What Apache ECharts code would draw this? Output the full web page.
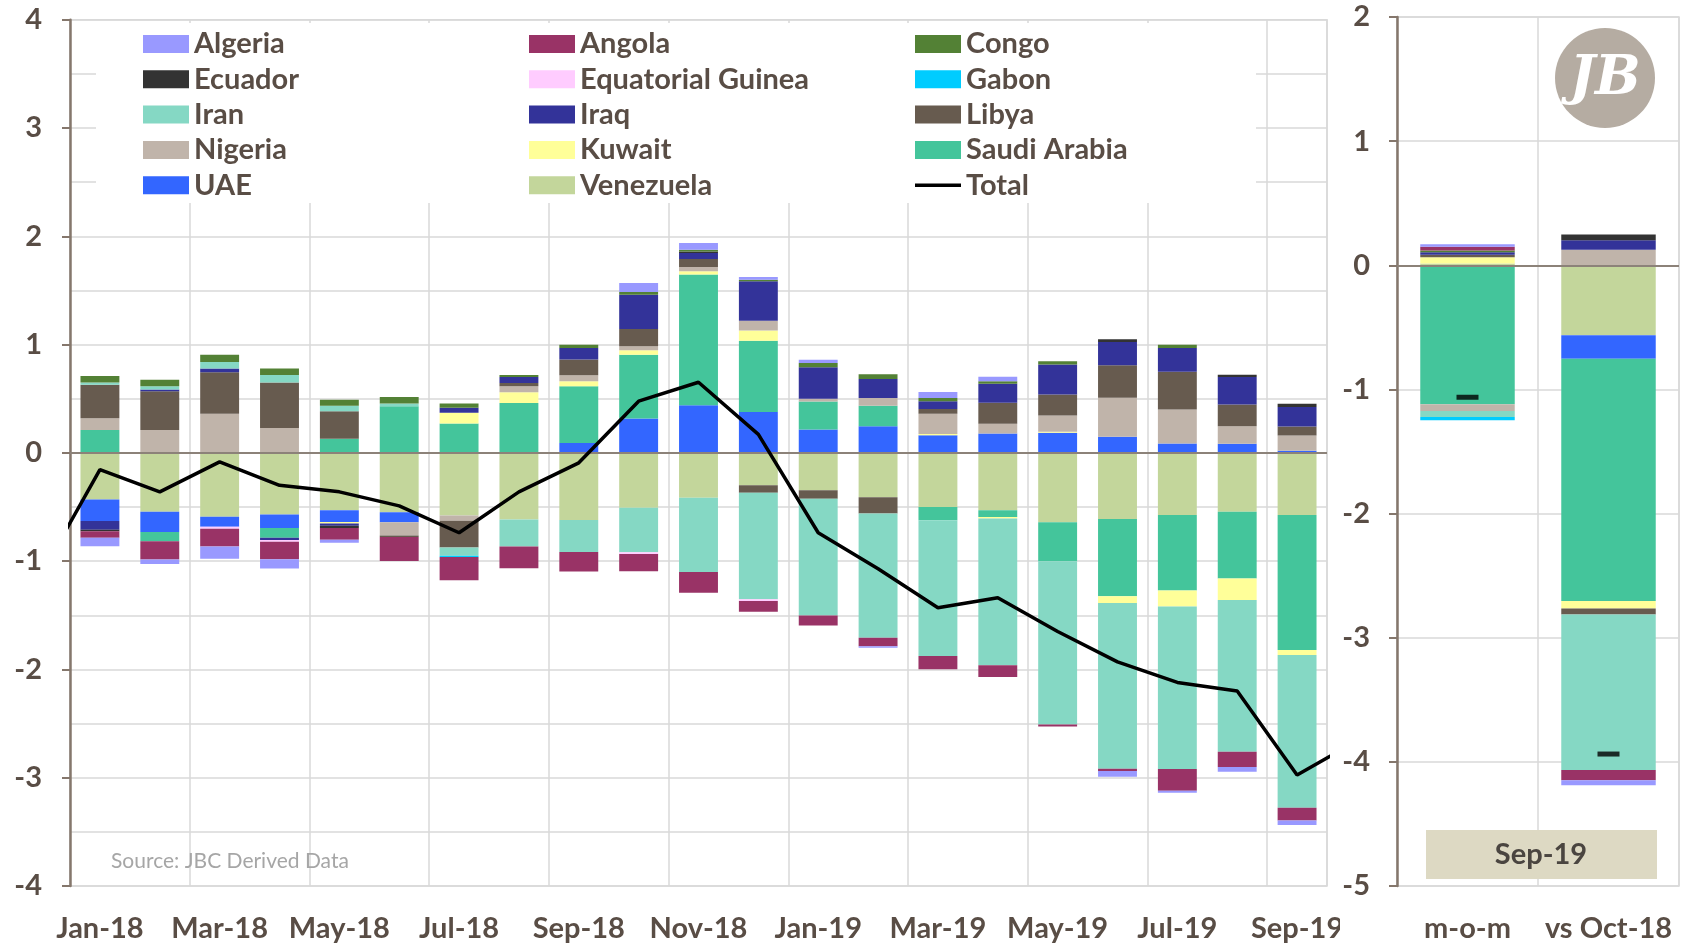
<!DOCTYPE html>
<html>
<head>
<meta charset="utf-8">
<script src="https://cdn.jsdelivr.net/npm/echarts@6/dist/echarts.min.js"></script>
<style>
html,body{margin:0;padding:0;background:#fff;}
#chart{width:1687px;height:943px;}
</style>
</head>
<body>
<div id="chart"></div>
<script>
// ---------- DATA ----------
const months = ['Jan-18','Feb-18','Mar-18','Apr-18','May-18','Jun-18','Jul-18','Aug-18','Sep-18','Oct-18','Nov-18','Dec-18',
                'Jan-19','Feb-19','Mar-19','Apr-19','May-19','Jun-19','Jul-19','Aug-19','Sep-19'];
const sepCats = ['m-o-m', 'vs Oct-18'];
const leftTicks = [-4, 4, 1];   // min, max, step
const rightTicks = [-5, 2, 1];

const venezuela = [-0.43,-0.545,-0.59,-0.57,-0.53,-0.548,-0.578,-0.615,-0.62,-0.508,-0.415,-0.30,-0.345,-0.41,-0.50,-0.53,-0.64,-0.61,-0.575,-0.545,-0.575];
const uae       = [-0.20,-0.185,-0.092,-0.123,-0.108,-0.092,0,0,0.092,0.317,0.44,0.378,0.215,0.246,0.163,0.178,0.185,0.148,0.086,0.083,0.02];
const saudiArabia = [0.21,-0.086,0,-0.092,0.13,0.43,0.27,0.46,0.523,0.59,1.206,0.658,0.26,0.19,-0.123,-0.062,-0.36,-0.714,-0.695,-0.615,-1.246];
const kuwait    = [0,0,0,0,-0.015,0,0.10,0.10,0.046,0.04,0.03,0.095,0,0,0.012,-0.015,0.01,-0.062,-0.15,-0.20,-0.046];
const nigeria   = [0.11,0.21,0.36,0.23,0,-0.123,-0.05,0.055,0.055,0.037,0.04,0.09,0.025,0.07,0.185,0.09,0.15,0.36,0.314,0.163,0.14];
const libya     = [0.31,0.36,0.385,0.42,0.255,-0.015,-0.246,0.03,0.145,0.16,0.074,-0.068,-0.08,-0.15,0.046,0.194,0.194,0.30,0.348,0.20,0.083];
const iraq      = [-0.08,0.015,0.034,-0.02,-0.02,0,0.046,0.055,0.108,0.317,0.055,0.363,0.29,0.175,0.07,0.175,0.277,0.215,0.22,0.255,0.18];
const iran      = [0.02,0.03,0.06,0.07,0.05,0.025,-0.077,-0.25,-0.295,-0.41,-0.686,-0.985,-1.077,-1.148,-1.252,-1.354,-1.508,-1.532,-1.50,-1.40,-1.41];
const gabon     = [0,0,0,0,0,0,-0.01,0,0,0,0,0,0,0,0,0,0,0,0,0,0];
const equatorialGuinea = [0,0,-0.02,-0.015,0,0,0,0,0,-0.015,0,-0.015,0,0,0,0,0,0,0,0,0];
const ecuador   = [-0.015,0,0,0,-0.02,0,0,0,0,0,0.015,0,0,0,0,0,0,0.025,0,0.02,0.03];
const congo     = [0.06,0.06,0.068,0.06,0.055,0.06,0.04,0.02,0.03,0.025,0.015,0.015,0.04,0.045,0.03,0.025,0.03,0,0.03,0,0];
const angola    = [-0.06,-0.17,-0.163,-0.163,-0.11,-0.22,-0.215,-0.20,-0.18,-0.16,-0.19,-0.10,-0.092,-0.077,-0.123,-0.108,-0.02,-0.02,-0.20,-0.14,-0.117];
const algeria   = [-0.077,-0.04,-0.114,-0.086,-0.028,0,0,0,0,0.083,0.062,0.025,0.03,-0.015,0.055,0.04,0,-0.052,-0.02,-0.046,-0.043];

const total     = [-0.154,-0.36,-0.083,-0.30,-0.36,-0.49,-0.738,-0.36,-0.092,0.477,0.652,0.17,-0.738,-1.07,-1.43,-1.338,-1.65,-1.93,-2.12,-2.20,-2.975];
const totalBefore = -1.14;  // Dec-17 (only the edge of its segment is visible)
const totalAfter  = -2.66;  // Oct-19 (only the edge of its segment is visible)

// Sep-19 panel: [m-o-m, vs Oct-18]
const venezuelaSep = [0.015,-0.564];
const uaeSep       = [0,-0.188];
const saudiArabiaSep = [-1.12,-1.953];
const kuwaitSep    = [0.05,-0.059];
const nigeriaSep   = [-0.054,0.126];
const libyaSep     = [0.02,-0.048];
const iraqSep      = [0.02,0.075];
const iranSep      = [-0.048,-1.253];
const gabonSep     = [-0.027,0];
const equatorialGuineaSep = [0,0];
const ecuadorSep   = [0,0.046];
const congoSep     = [0.015,0];
const angolaSep    = [0.03,-0.083];
const algeriaSep   = [0.02,-0.04];
const totalSep     = [-1.063,-3.937];

// ---------- STYLE ----------
const FONT = 'Lato';
const TXT = '#594d45';
const GRID = '#d9d9d9';
const AXIS = '#85776c';

// stacking order (outward from zero) and colours
const stackOrder = [
  ['Venezuela', venezuela, venezuelaSep, '#c3d69b'],
  ['UAE', uae, uaeSep, '#3366ff'],
  ['Saudi Arabia', saudiArabia, saudiArabiaSep, '#44c59b'],
  ['Kuwait', kuwait, kuwaitSep, '#ffff99'],
  ['Nigeria', nigeria, nigeriaSep, '#c0b4aa'],
  ['Libya', libya, libyaSep, '#675b4f'],
  ['Iraq', iraq, iraqSep, '#333399'],
  ['Iran', iran, iranSep, '#85d8c4'],
  ['Gabon', gabon, gabonSep, '#00ccff'],
  ['Equatorial Guinea', equatorialGuinea, equatorialGuineaSep, '#ffccff'],
  ['Ecuador', ecuador, ecuadorSep, '#333333'],
  ['Congo', congo, congoSep, '#538135'],
  ['Angola', angola, angolaSep, '#993366'],
  ['Algeria', algeria, algeriaSep, '#9999ff']
];

const series = [];
stackOrder.forEach(([name, vals, sepVals, color]) => {
  series.push({
    name, type: 'bar', xAxisIndex: 0, yAxisIndex: 0, stack: 'left',
    data: vals, barCategoryGap: '35%', itemStyle: { color }, z: 2
  });
  series.push({
    name, type: 'bar', xAxisIndex: 2, yAxisIndex: 1, stack: 'right',
    data: sepVals, barCategoryGap: '33%', itemStyle: { color }, z: 2
  });
});
const zeroLine = {
  silent: true, symbol: 'none', label: { show: false },
  lineStyle: { color: '#8c8279', width: 2, type: 'solid' },
  data: [{ yAxis: 0 }]
};
series[0].markLine = zeroLine;
series[1].markLine = zeroLine;

const lineData = [[-1, totalBefore]].concat(total.map((v, i) => [i, v])).concat([[months.length, totalAfter]]);
series.push({
  name: 'Total', type: 'line', xAxisIndex: 1, yAxisIndex: 0,
  data: lineData, symbol: 'none', clip: true,
  lineStyle: { color: '#000', width: 3.5 }, itemStyle: { color: '#000' }, z: 5
});
series.push({
  name: 'Total (Sep-19)', type: 'scatter', xAxisIndex: 2, yAxisIndex: 1,
  data: totalSep, symbol: 'rect', symbolSize: [22, 5],
  itemStyle: { color: '#000' }, z: 6
});

const legendText = { fontFamily: FONT, fontSize: 29, fontWeight: 'bold', color: TXT, lineHeight: 30 };
const lineIcon = 'path://M0,0 M46,18 M0,7.2 L46,7.2 L46,10.8 L0,10.8 Z';
function makeLegend(left, names) {
  return {
    orient: 'vertical', left, top: 29, padding: 0,
    itemWidth: 46, itemHeight: 18, itemGap: 5.3,
    textStyle: legendText,
    data: names.map(n => n === 'Total' ? { name: n, icon: lineIcon } : { name: n, icon: 'rect' }),
    z: 5, selectedMode: false
  };
}

const axisLabelStyle = { fontFamily: FONT, fontSize: 29, fontWeight: 'bold', color: TXT };

const option = {
  animation: false,
  backgroundColor: '#fff',
  legend: [
    makeLegend(143, ['Algeria','Ecuador','Iran','Nigeria','UAE']),
    makeLegend(529, ['Angola','Equatorial Guinea','Iraq','Kuwait','Venezuela']),
    makeLegend(915, ['Congo','Gabon','Libya','Saudi Arabia','Total'])
  ],
  grid: [
    { left: 70, width: 1257, top: 19.7, height: 867.3, show: true, borderColor: GRID, borderWidth: 1.5, backgroundColor: 'transparent' },
    { left: 1397, width: 282, top: 17, height: 870, show: true, borderColor: GRID, borderWidth: 1.5, backgroundColor: 'transparent' }
  ],
  xAxis: [
    { type: 'category', gridIndex: 0, data: months, boundaryGap: true,
      axisLine: { show: false }, axisTick: { show: false },
      axisLabel: Object.assign({ interval: 1, margin: 28 }, axisLabelStyle),
      splitLine: { show: true, interval: 1, lineStyle: { color: GRID, width: 1.5 } } },
    { type: 'value', gridIndex: 0, min: -0.5, max: months.length - 0.5, show: false, position: 'top',
      axisLine: { onZero: false } },
    { type: 'category', gridIndex: 1, data: sepCats, boundaryGap: true,
      axisLine: { show: false }, axisTick: { show: false },
      axisLabel: Object.assign({ interval: 0, margin: 28 }, axisLabelStyle),
      splitLine: { show: true, interval: 0, lineStyle: { color: GRID, width: 1.5 } } }
  ],
  yAxis: [
    { type: 'value', gridIndex: 0, min: leftTicks[0], max: leftTicks[1], interval: leftTicks[2],
      axisLine: { show: true, onZero: false, lineStyle: { color: AXIS, width: 2.5 } },
      axisTick: { show: true, length: 8, lineStyle: { color: AXIS, width: 2 } },
      axisLabel: Object.assign({ margin: 28 }, axisLabelStyle),
      splitLine: { show: true, lineStyle: { color: GRID, width: 1.5 } },
      minorTick: { show: false, splitNumber: 2 },
      minorSplitLine: { show: true, lineStyle: { color: GRID, width: 1.5 } } },
    { type: 'value', gridIndex: 1, min: rightTicks[0], max: rightTicks[1], interval: rightTicks[2],
      axisLine: { show: true, onZero: false, lineStyle: { color: AXIS, width: 2.5 } },
      axisTick: { show: true, length: 8, lineStyle: { color: AXIS, width: 2 } },
      axisLabel: Object.assign({ margin: 27 }, axisLabelStyle),
      splitLine: { show: true, lineStyle: { color: GRID, width: 1.5 } } }
  ],
  graphic: [
    { type: 'rect', shape: { x: 96, y: 23, width: 1160, height: 180 }, style: { fill: '#fff' }, z: 1, silent: true },
    { type: 'text', left: 111, top: 851, z: 10, silent: true,
      style: { text: 'Source: JBC Derived Data', fontFamily: FONT, fontSize: 21, fill: '#a6a6a6' } },
    { type: 'rect', shape: { x: 1340, y: 897, width: 50, height: 46 }, style: { fill: '#fff' }, z: 50, silent: true },
    { type: 'rect', shape: { x: 1426, y: 830, width: 231, height: 49 }, style: { fill: '#ddd9c3' }, z: 10, silent: true },
    { type: 'text', x: 1541, y: 855, z: 11, silent: true,
      style: { text: 'Sep-19', fontFamily: FONT, fontSize: 29, fontWeight: 'bold', fill: '#4a4540', align: 'center', verticalAlign: 'middle' } },
    { type: 'circle', shape: { cx: 1605, cy: 78, r: 50 }, style: { fill: '#b5aca2' }, z: 10, silent: true },
    { type: 'text', x: 1605, y: 80, z: 11, silent: true,
      style: { text: 'JB', fontFamily: 'DejaVu Serif', fontSize: 54, fontWeight: 'bold', fontStyle: 'italic', fill: '#fff', align: 'center', verticalAlign: 'middle' } }
  ],
  series
};

const chart = echarts.init(document.getElementById('chart'), null, { renderer: 'canvas' });
chart.setOption(option);
</script>
</body>
</html>
